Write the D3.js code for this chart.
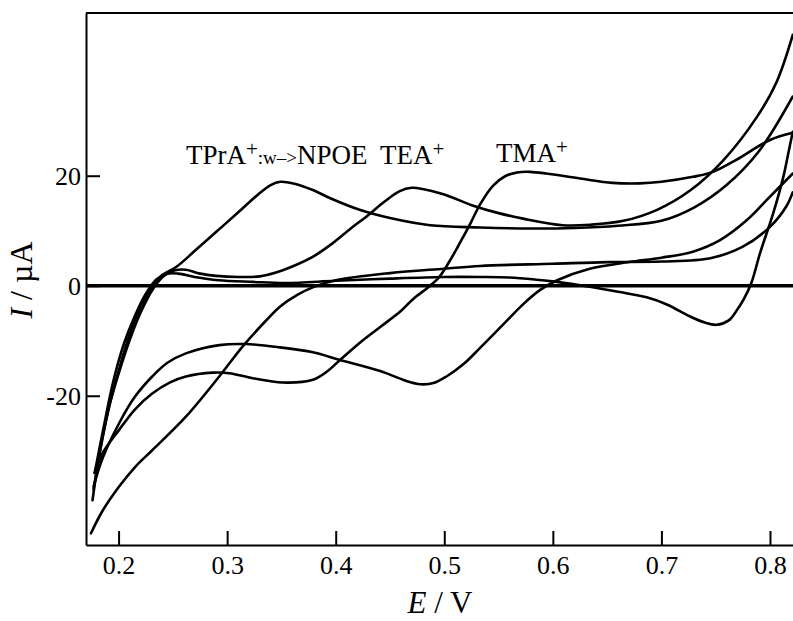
<!DOCTYPE html>
<html>
<head>
<meta charset="utf-8">
<script src="https://cdn.jsdelivr.net/npm/d3@7"></script>
<style>
    body { margin: 0; background: #ffffff; }
    svg { display: block; font-family: "Liberation Serif", "Times New Roman", serif; }
</style>
</head>
<body>
<div class="Chart"></div>
<script>

// potential (V) and current (uA)
const x_ticks = [0.2, 0.3, 0.4, 0.5, 0.6, 0.7, 0.8];
const y_ticks = [-20, 0, 20];

const tpra_forward = [
    [0.176, -39], [0.182, -31], [0.19, -23], [0.2, -15.5], [0.21, -9], [0.22, -4], [0.23, -0.5],
    [0.24, 1.9], [0.253, 3.4], [0.27, 6.3], [0.29, 9.8], [0.31, 13.3], [0.328, 16.5], [0.34, 18.3],
    [0.349, 18.9], [0.361, 18.6], [0.379, 17.4], [0.395, 15.9], [0.422, 13.8], [0.45, 12.3],
    [0.487, 11.0], [0.533, 10.6], [0.58, 10.4], [0.62, 10.5], [0.66, 10.9], [0.7, 11.8],
    [0.73, 14.2], [0.76, 18.3], [0.79, 24.5], [0.821, 34.4]
];

const tea_forward = [
    [0.177, -37], [0.184, -29], [0.192, -21.5], [0.2, -16], [0.21, -10], [0.22, -5], [0.232, -0.5],
    [0.242, 1.8], [0.252, 2.8], [0.262, 2.9], [0.275, 2.2], [0.29, 1.8], [0.31, 1.6], [0.33, 1.7],
    [0.345, 2.4], [0.36, 3.5], [0.38, 5.4], [0.397, 7.7], [0.415, 10.6], [0.4285, 12.6],
    [0.445, 15.3], [0.459, 17.2], [0.47, 17.8], [0.48, 17.6], [0.5, 16.6], [0.526, 14.6],
    [0.55, 13.2], [0.5725, 12.2], [0.609, 11.0], [0.635, 11.1], [0.665, 11.8], [0.696, 13.8],
    [0.727, 17.4], [0.757, 22.8], [0.788, 30.7], [0.806, 37], [0.821, 45.6]
];

const tma_forward = [
    [0.178, -34], [0.185, -30.5], [0.2005, -26.2], [0.215, -22.5], [0.231, -19.6], [0.247, -17.6],
    [0.262, -16.5], [0.2866, -15.8], [0.302, -15.9], [0.3235, -16.8], [0.351, -17.6], [0.379, -17.1],
    [0.392, -15.6], [0.404, -13.5], [0.422, -10.4], [0.441, -7.5], [0.46, -4.6], [0.4714, -2.4],
    [0.485, -0.3], [0.495, 1.5], [0.505, 4.5], [0.515, 8], [0.524, 11.3], [0.533, 14.8],
    [0.545, 18.2], [0.556, 19.9], [0.567, 20.6], [0.579, 20.7], [0.594, 20.4], [0.625, 19.5],
    [0.655, 18.7], [0.68, 18.6], [0.7, 18.9], [0.729, 19.8], [0.7475, 20.7], [0.769, 22.9],
    [0.8, 26.5], [0.821, 27.8]
];

const tpra_reverse = [
    [0.1746, -45], [0.185, -41], [0.2005, -36.5], [0.215, -33], [0.231, -29.9], [0.262, -23.8],
    [0.2927, -16.5], [0.314, -11.1], [0.335, -6.5], [0.3486, -3.8], [0.365, -1.6], [0.38, -0.2],
    [0.4, 1.0], [0.45, 2.3], [0.5, 3.1], [0.533, 3.6], [0.6, 4.0], [0.65, 4.3], [0.7, 4.4],
    [0.745, 5.0], [0.775, 7.1], [0.8, 10.7], [0.815, 14.4], [0.821, 17]
];

const tea_reverse = [
    [0.177, -36.5], [0.185, -31.5], [0.2005, -25], [0.215, -20.2], [0.231, -16.5], [0.245, -14],
    [0.262, -12.3], [0.2927, -10.8], [0.317, -10.6], [0.3486, -11.2], [0.379, -12.1], [0.404, -13.5],
    [0.441, -15.5], [0.465, -17.3], [0.478, -17.9], [0.49, -17.7], [0.502, -16.5], [0.518, -14.2],
    [0.533, -11.3], [0.555, -6.9], [0.573, -3.3], [0.588, -0.8], [0.604, 1.0], [0.634, 3.1],
    [0.67, 4.3], [0.7, 5.1], [0.729, 6.2], [0.754, 8.3], [0.7785, 11.9], [0.8, 16.2], [0.821, 20.4]
];

const tma_reverse = [
    [0.178, -34], [0.186, -26], [0.195, -17.5], [0.205, -10.5], [0.215, -5.5], [0.225, -1.5],
    [0.235, 1.2], [0.245, 2.2], [0.255, 2.2], [0.27, 1.6], [0.292, 1.0], [0.3235, 0.7], [0.354, 0.5],
    [0.4, 0.9], [0.45, 1.3], [0.5, 1.6], [0.533, 1.6], [0.56, 1.5], [0.585, 1.1], [0.6035, 0.7],
    [0.634, -0.2], [0.66, -1.1], [0.6864, -2.1], [0.705, -3.4], [0.7264, -5.6], [0.74, -6.7],
    [0.7509, -7.1], [0.762, -6.3], [0.769, -4.6], [0.776, -2.4], [0.783, 0.6], [0.7908, 5.9],
    [0.803, 13.2], [0.8123, 19.8], [0.8168, 24], [0.821, 28]
];

// blank trace, flat at zero current
const blank_trace = [[0.17, 0], [0.8212, 0]];

const curves = [tpra_forward, tea_forward, tma_forward, tpra_reverse, tea_reverse, tma_reverse];


const width = 793;
const height = 621;
const margin = {top: 13, right: 0, bottom: 76, left: 86};

const svg = d3.select(".Chart")
    .append("svg")
    .attr("width", width)
    .attr("height", height);

const x_scale = d3.scaleLinear()
    .domain([0.17, 0.8212])
    .range([margin.left, width - margin.right]);

const y_scale = d3.scaleLinear()
    .domain([-47.13, 49.58])
    .range([height - margin.bottom, margin.top]);

svg.append("clipPath")
    .attr("id", "plot_clip")
    .append("rect")
    .attr("x", margin.left)
    .attr("y", margin.top)
    .attr("width", width - margin.left - margin.right)
    .attr("height", height - margin.top - margin.bottom);

const line = d3.line()
    .x(d => x_scale(d[0]))
    .y(d => y_scale(d[1]))
    .curve(d3.curveCatmullRom.alpha(0.5));

const plot = svg.append("g").attr("clip-path", "url(#plot_clip)");

plot.append("path")
    .datum(blank_trace)
    .attr("d", line)
    .attr("fill", "none")
    .attr("stroke", "#000")
    .attr("stroke-width", 3.6);

plot.selectAll(".Curve")
    .data(curves)
    .join("path")
    .attr("class", "Curve")
    .attr("d", line)
    .attr("fill", "none")
    .attr("stroke", "#000")
    .attr("stroke-width", 2.6)
    .attr("stroke-linejoin", "round")
    .attr("stroke-linecap", "round");

// axes, ticks pointing into the plot
const x_axis = svg.append("g")
    .attr("transform", `translate(0, ${height - margin.bottom})`)
    .call(d3.axisBottom(x_scale)
        .tickValues(x_ticks)
        .tickFormat(d3.format(".1f"))
        .tickSizeInner(-14)
        .tickSizeOuter(0)
        .tickPadding(11));

const y_axis = svg.append("g")
    .attr("transform", `translate(${margin.left}, 0)`)
    .call(d3.axisLeft(y_scale)
        .tickValues(y_ticks)
        .tickFormat(d => String(d))
        .tickSizeInner(-14)
        .tickSizeOuter(0)
        .tickPadding(5));

[x_axis, y_axis].forEach(axis => {
    axis.attr("font-family", null).attr("font-size", null);
    axis.selectAll("path, line").attr("stroke", "#000").attr("stroke-width", 2);
    axis.selectAll("text").attr("fill", "#000").style("font-size", "26px");
});

// top frame line
svg.append("line")
    .attr("x1", margin.left)
    .attr("x2", width - margin.right)
    .attr("y1", margin.top)
    .attr("y2", margin.top)
    .attr("stroke", "#000")
    .attr("stroke-width", 2);

// axis titles
const x_title = svg.append("text")
    .attr("x", 440)
    .attr("y", 613)
    .attr("text-anchor", "middle")
    .style("font-size", "31px");
x_title.append("tspan").attr("font-style", "italic").text("E");
x_title.append("tspan").text(" / V");

const y_title = svg.append("text")
    .attr("transform", "translate(32, 280) rotate(-90)")
    .attr("text-anchor", "middle")
    .style("font-size", "32px");
y_title.append("tspan").attr("font-style", "italic").text("I");
y_title.append("tspan").text(" / µA");

// peak labels
const add_label = function (x, y, name, suffix) {
    const label = svg.append("text")
        .attr("x", x)
        .attr("y", y)
        .style("font-size", "27px");
    label.append("tspan").text(name);
    label.append("tspan").style("font-size", "21px").attr("dy", -8).text("+");
    if (suffix) {
        label.append("tspan").style("font-size", "19px").attr("dy", 8).text(":w–>");
        label.append("tspan").text("NPOE");
    }
};

add_label(186, 164, "TPrA", true);
add_label(380, 164, "TEA", false);
add_label(496, 162, "TMA", false);

</script>
</body>
</html>
